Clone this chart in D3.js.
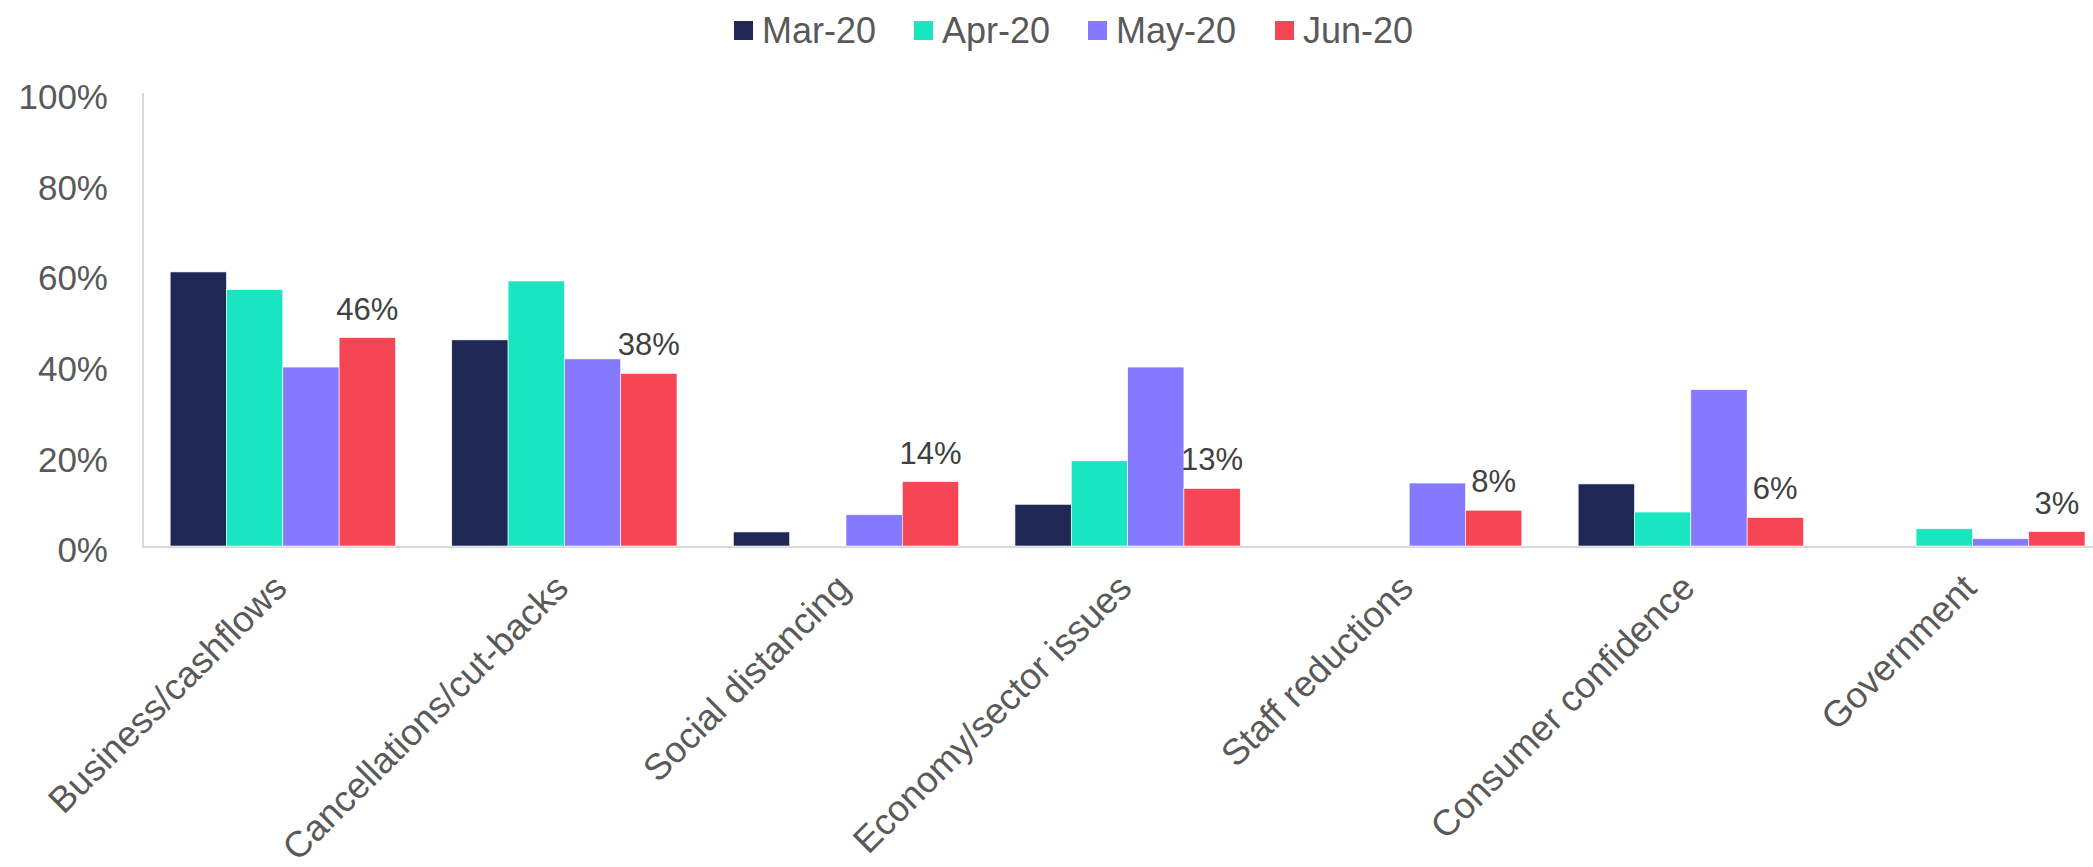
<!DOCTYPE html>
<html>
<head>
<meta charset="utf-8">
<script src="https://cdn.jsdelivr.net/npm/d3@7"></script>
<style>
  html, body { margin: 0; padding: 0; background: #fff; overflow: hidden; }
  text { font-family: "Liberation Sans", Arial, sans-serif; }
</style>
</head>
<body>
<svg id="chart" width="2093" height="867"></svg>
<script>
const categories = ["Business/cashflows", "Cancellations/cut-backs", "Social distancing", "Economy/sector issues", "Staff reductions", "Consumer confidence", "Government"];
const seriesNames = ["Mar-20", "Apr-20", "May-20", "Jun-20"];
const mar20 = [60.5, 45.5, 3.1, 9.2, null, 13.7, null];
const apr20 = [56.6, 58.5, null, 18.8, null, 7.5, 3.8];
const may20 = [39.5, 41.3, 6.9, 39.5, 13.9, 34.5, 1.6];
const jun20 = [46, 38.1, 14.2, 12.7, 7.9, 6.3, 3.2];
const colors = ["#1f2754", "#19e6c1", "#857afd", "#f64555"];
const yTicks = [0, 20, 40, 60, 80, 100];
const labelSeries = 3; // only Jun-20 is labelled

const series = [mar20, apr20, may20, jun20];

const svg = d3.select("#chart");
const plotLeft = 142, plotBottom = 546, plotTop = 93;
const step = 281.6;
const plotRight = plotLeft + step * categories.length;

const x0 = d3.scaleBand().domain(categories).range([plotLeft, plotRight]).paddingInner(0.2).paddingOuter(0.1);
const x1 = d3.scaleBand().domain(seriesNames).range([0, x0.bandwidth()]);
const y = d3.scaleLinear().domain([0, 100]).range([plotBottom, plotTop]);

// axes lines
svg.append("line").attr("x1", plotLeft + 1).attr("x2", plotLeft + 1).attr("y1", plotTop).attr("y2", plotBottom)
  .attr("stroke", "#d9d9d9").attr("stroke-width", 2);
svg.append("line").attr("x1", plotLeft).attr("x2", 2093).attr("y1", plotBottom + 1).attr("y2", plotBottom + 1)
  .attr("stroke", "#d9d9d9").attr("stroke-width", 2);

// y axis labels
const yAxis = d3.axisLeft(y).tickValues(yTicks).tickFormat(d => d + "%").tickSize(0).tickPadding(0);
const gy = svg.append("g").attr("transform", `translate(108,0)`).call(yAxis);
gy.select(".domain").remove();
gy.selectAll("text").attr("font-size", 35).attr("fill", "#595959")
  .attr("font-family", '"Liberation Sans", Arial, sans-serif').attr("dy", "0.45em");

// bars
const groups = svg.append("g").selectAll("g").data(categories).join("g")
  .attr("transform", d => `translate(${x0(d)},0)`);

series.forEach((vals, si) => {
  groups.filter((d, i) => vals[i] != null)
    .append("rect")
    .attr("x", x1(seriesNames[si]))
    .attr("width", x1.bandwidth())
    .attr("y", d => y(vals[categories.indexOf(d)]))
    .attr("height", d => plotBottom - y(vals[categories.indexOf(d)]))
    .attr("fill", colors[si])
    .attr("stroke", "#ffffff").attr("stroke-width", 0.6);
});

// data labels for Jun-20
groups.append("text")
  .attr("x", x1(seriesNames[labelSeries]) + x1.bandwidth() / 2)
  .attr("y", (d, i) => y(series[labelSeries][i]) - 18)
  .attr("text-anchor", "middle")
  .attr("font-size", 31)
  .attr("fill", "#404040")
  .text((d, i) => Math.round(series[labelSeries][i]) + "%");

// x axis labels
const xAxis = svg.append("g");
xAxis.selectAll("text").data(categories).join("text")
  .attr("transform", d => `translate(${x0(d) + x0.bandwidth() / 2 + 6},${plotBottom + 44}) rotate(-45)`)
  .attr("text-anchor", "end")
  .attr("font-size", 36.5)
  .attr("fill", "#595959")
  .text(d => d);

// legend
const legendItems = [
  {x: 734, name: seriesNames[0], c: colors[0]},
  {x: 914, name: seriesNames[1], c: colors[1]},
  {x: 1088, name: seriesNames[2], c: colors[2]},
  {x: 1275, name: seriesNames[3], c: colors[3]}
];
const lg = svg.append("g").selectAll("g").data(legendItems).join("g")
  .attr("transform", d => `translate(${d.x},0)`);
lg.append("rect").attr("x", 0).attr("y", 21).attr("width", 19).attr("height", 19).attr("fill", d => d.c);
lg.append("text").attr("x", 28).attr("y", 30).attr("dy", "0.36em")
  .attr("font-size", 36).attr("fill", "#595959").text(d => d.name);
</script>
</body>
</html>
